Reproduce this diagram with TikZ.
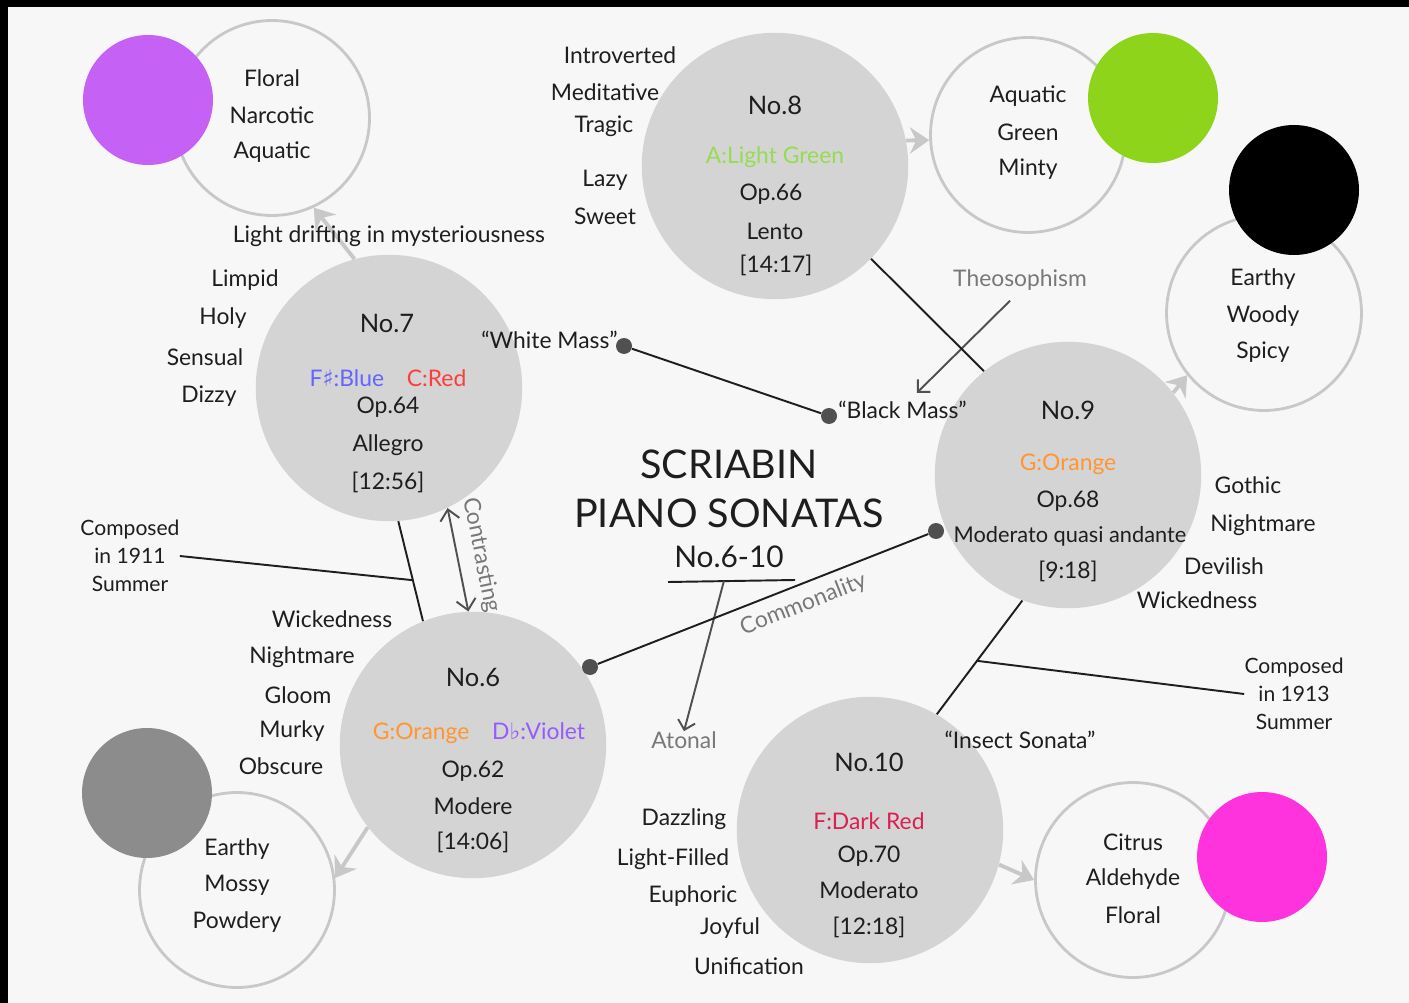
\documentclass[tikz,border=0pt]{standalone}
\usepackage{fontspec}
\setmainfont{Lato}
\newfontfamily\signfont{DejaVu Sans}
\usetikzlibrary{arrows.meta,calc}

% colours
\definecolor{paper}{RGB}{247,247,247}
\definecolor{ink}{RGB}{30,30,30}
\definecolor{discgray}{RGB}{212,212,212}
\definecolor{ringgray}{RGB}{200,200,200}
\definecolor{notegray}{RGB}{120,120,120}
\definecolor{dotgray}{RGB}{80,80,80}
\definecolor{violetcol}{RGB}{197,97,245}
\definecolor{greencol}{RGB}{141,212,26}
\definecolor{magentacol}{RGB}{255,51,221}
\definecolor{stonecol}{RGB}{140,140,140}
\definecolor{keyblue}{RGB}{100,100,255}
\definecolor{keyred}{RGB}{255,60,60}
\definecolor{keyorange}{RGB}{255,150,50}
\definecolor{keyviolet}{RGB}{150,90,255}
\definecolor{keygreen}{RGB}{150,220,80}
\definecolor{keydarkred}{RGB}{220,30,80}

\tikzset{
    sonata/.style={circle, fill=discgray, minimum size=5.33cm, inner sep=0pt},
    ring/.style={circle, draw=ringgray, line width=1.6pt, minimum size=3.9cm, inner sep=0pt},
    swatch/.style={circle, minimum size=2.6cm, inner sep=0pt},
    word/.style={font=\fontsize{13}{15}\selectfont, text=ink, inner sep=0pt},
    small/.style={font=\fontsize{12}{16}\selectfont, text=ink, inner sep=0pt, align=center},
    note/.style={word, text=notegray},
    title/.style={font=\fontsize{22.5}{27}\selectfont, text=ink, inner sep=0pt},
    number/.style={font=\fontsize{14.5}{16}\selectfont, text=ink, inner sep=0pt},
    dot/.style={circle, fill=dotgray, minimum size=0.32cm, inner sep=0pt},
    link/.style={draw=ink, line width=1.1pt},
    scentarrow/.style={draw=ringgray, line width=2.2pt, -{Stealth[length=11pt,width=15pt]}},
    pointer/.style={draw=dotgray, line width=1.1pt, -{Straight Barb[length=5pt,width=10pt]}},
}

\begin{document}
\begin{tikzpicture}[x=0.02cm, y=-0.02cm]
    % frame and paper
    \fill[black] (0,0) rectangle (1409,1003);
    \fill[paper] (8,7) rectangle (1409,1003);
    \useasboundingbox (0,0) rectangle (1409,1003);

    % scent rings and colour swatches
    \node[ring] (floral) at (272,118) {};
    \node[ring] (aquatic) at (1028,135) {};
    \node[ring] (earthy) at (1264,313) {};
    \node[ring] (mossy) at (237,890) {};
    \node[ring] (citrus) at (1133,880) {};
    \node[swatch, fill=violetcol] (violetdot) at (148,100) {};
    \node[swatch, fill=greencol] (greendot) at (1153,98) {};
    \node[swatch, fill=black] (blackdot) at (1294,190) {};
    \node[swatch, fill=stonecol] (greydot) at (147,793) {};
    \node[swatch, fill=magentacol] (pinkdot) at (1262,857) {};

    % the five sonatas
    \node[sonata] (n7) at (389,388) {};
    \node[sonata] (n8) at (775,166) {};
    \node[sonata] (n9) at (1068,475) {};
    \node[sonata] (n6) at (473,745) {};
    \node[sonata] (n10) at (870,830) {};

    % sonata -> scent
    \draw[scentarrow] (n7.105) -- (floral.295);
    \draw[scentarrow] (n8.11) -- (aquatic.183);
    \draw[scentarrow] (n9.38) -- (earthy.219);
    \draw[scentarrow] (n6.218) -- (mossy.7);
    \draw[scentarrow] (n10.-15) -- (citrus.180);

    % scent words
    \foreach \t/\y in {Floral/78, Narcotic/115, Aquatic/152} \node[word] (floral-\t) at (272,\y) {\t};
    \foreach \t/\y in {Aquatic/96, Green/132, Minty/169} \node[word] (aquatic-\t) at (1028,\y) {\t};
    \foreach \t/\y in {Earthy/279, Woody/316, Spicy/352} \node[word] (earthy-\t) at (1263,\y) {\t};
    \foreach \t/\y in {Earthy/849, Mossy/885, Powdery/922} \node[word] (mossy-\t) at (237,\y) {\t};
    \foreach \t/\y in {Citrus/842, Aldehyde/879, Floral/915} \node[word] (citrus-\t) at (1133,\y) {\t};

    % moods round each sonata
    \foreach \t/\x/\y in {Limpid/245/280, Holy/223/318, Sensual/205/357, Dizzy/209/396}
        \node[word] (n7-\t) at (\x,\y) {\t};
    \foreach \t/\x/\y in {Introverted/620/55, Meditative/605/92, Tragic/604/126, Lazy/605/180, Sweet/605/216}
        \node[word] (n8-\t) at (\x,\y) {\t};
    \foreach \t/\x/\y in {Gothic/1248/485, Nightmare/1263/525, Devilish/1224/566, Wickedness/1197/600}
        \node[word] (n9-\t) at (\x,\y) {\t};
    \foreach \t/\x/\y in {Wickedness/332/619, Nightmare/302/657, Gloom/298/695, Murky/292/731, Obscure/281/766}
        \node[word] (n6-\t) at (\x,\y) {\t};
    \foreach \t/\x/\y in {Dazzling/684/819, Light-Filled/673/859, Euphoric/693/896, Joyful/730/928, Unification/749/966}
        \node[word] (n10-\t) at (\x,\y) {\t};

    % No.7
    \node[number] (n7-no) at (387,323) {No.7};
    \node[word] (n7-key) at (388,378) {\textcolor{keyblue}{F{\signfont ♯}:Blue}\quad\textcolor{keyred}{C:Red}};
    \node[word] (n7-op) at (388,407) {Op.64};
    \node[word] (n7-tempo) at (388,445) {Allegro};
    \node[word] (n7-time) at (388,482) {[12:56]};
    \node[word] (drift) at (389,236) {Light drifting in mysteriousness};

    % No.8
    \node[number] (n8-no) at (775,105) {No.8};
    \node[word, text=keygreen] (n8-key) at (775,157) {A:Light Green};
    \node[word] (n8-op) at (771,194) {Op.66};
    \node[word] (n8-tempo) at (775,231) {Lento};
    \node[word] (n8-time) at (776,265) {[14:17]};

    % No.9
    \node[number] (n9-no) at (1068,410) {No.9};
    \node[word, text=keyorange] (n9-key) at (1068,464) {G:Orange};
    \node[word] (n9-op) at (1068,501) {Op.68};
    \node[word, font=\fontsize{12.4}{15}\selectfont] (n9-tempo) at (1070,536) {Moderato quasi andante};
    \node[word] (n9-time) at (1068,571) {[9:18]};

    % No.6
    \node[number] (n6-no) at (473,677) {No.6};
    \node[word] (n6-key) at (479,733) {\textcolor{keyorange}{G:Orange}\quad\textcolor{keyviolet}{D{\signfont ♭}:Violet}};
    \node[word] (n6-op) at (473,771) {Op.62};
    \node[word] (n6-tempo) at (473,806) {Modere};
    \node[word] (n6-time) at (473,842) {[14:06]};

    % No.10
    \node[number] (n10-no) at (869,762) {No.10};
    \node[word, text=keydarkred] (n10-key) at (869,821) {F:Dark Red};
    \node[word] (n10-op) at (869,856) {Op.70};
    \node[word] (n10-tempo) at (869,890) {Moderato};
    \node[word] (n10-time) at (869,927) {[12:18]};

    % title
    \node[title] (title1) at (729,464) {SCRIABIN};
    \node[title] (title2) at (729,513) {PIANO SONATAS};
    \node[title, font=\fontsize{17}{20}\selectfont] (title3) at (729,557) {No.6-10};
    \coordinate (ul1) at (668,582);
    \coordinate (ul2) at (795,580);
    \draw[link] (ul1) -- (ul2);
    \node[note] (atonal) at (684,740) {Atonal};
    \draw[pointer] ($(ul1)!0.44!(ul2)$) -- (atonal.north);

    % masses
    \node[dot] (white) at (624,346) {};
    \node[dot] (black) at (829,416) {};
    \node[word, anchor=east] (white-txt) at (618,340) {``White Mass''};
    \node[word, anchor=west] (black-txt) at (838,410) {``Black Mass''};
    \draw[link] (white) -- (black);
    \node[note] (theo) at (1020,280) {Theosophism};
    \draw[pointer] ($(theo.south)+(-10,10)$) -- ($(black-txt.north east)+(-50,-8)$);
    \draw[link] (n8.-44) -- (n9.129);

    % No.7 and No.6
    \draw[link] (n7.-86) -- (n6.112);
    \node[small] (comp1911) at (130,556) {Composed\\in 1911\\Summer};
    \draw[link] (comp1911.east) -- ($(n7.-86)!0.59!(n6.112)$);
    \draw[pointer, {Straight Barb[length=6pt,width=11pt]}-{Straight Barb[length=6pt,width=11pt]}] (n7.-64) -- (n6.92)
        node[midway, above, sloped, note, inner sep=7pt] {Contrasting};

    % commonality
    \node[dot] (d6) at (590,667) {};
    \node[dot] (d9) at (936,531) {};
    \draw[link] (d6) -- (d9) node[pos=0.6, below, sloped, note, inner sep=5pt] {Commonality};

    % No.9 and No.10
    \draw[link] (n9.250) -- (n10.60);
    \node[small] (comp1913) at (1294,694) {Composed\\in 1913\\Summer};
    \draw[link] ($(n9.250)!0.53!(n10.60)$) -- (comp1913.west);
    \node[word] (insect) at (1020,740) {``Insect Sonata''};

\end{tikzpicture}
\end{document}
